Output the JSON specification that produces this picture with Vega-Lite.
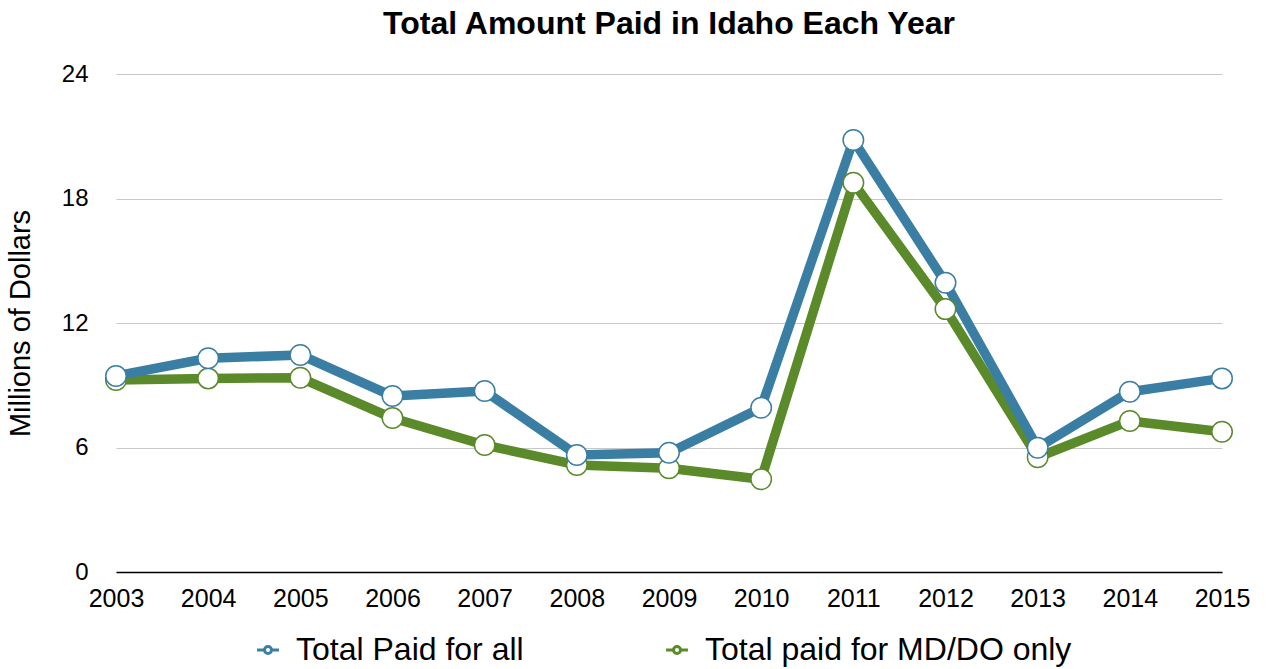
{
  "$schema": "https://vega.github.io/schema/vega-lite/v6.json",
  "width": 1106,
  "height": 498,
  "autosize": {"type": "none"},
  "padding": {"left": 116, "top": 74, "right": 44, "bottom": 97},
  "background": "white",
  "config": {
    "view": {"stroke": null},
    "font": "Liberation Sans"
  },
  "title": {
    "text": "Total Amount Paid in Idaho Each Year",
    "fontSize": 32,
    "fontWeight": "bold",
    "font": "Liberation Sans",
    "color": "black",
    "anchor": "middle",
    "frame": "group",
    "offset": 21
  },
  "data": {
    "values": [
      {"year": "2003", "series": "Total paid for MD/DO only", "value": 9.25},
      {"year": "2004", "series": "Total paid for MD/DO only", "value": 9.33},
      {"year": "2005", "series": "Total paid for MD/DO only", "value": 9.36},
      {"year": "2006", "series": "Total paid for MD/DO only", "value": 7.42},
      {"year": "2007", "series": "Total paid for MD/DO only", "value": 6.12},
      {"year": "2008", "series": "Total paid for MD/DO only", "value": 5.16},
      {"year": "2009", "series": "Total paid for MD/DO only", "value": 5.0},
      {"year": "2010", "series": "Total paid for MD/DO only", "value": 4.47},
      {"year": "2011", "series": "Total paid for MD/DO only", "value": 18.76},
      {"year": "2012", "series": "Total paid for MD/DO only", "value": 12.67},
      {"year": "2013", "series": "Total paid for MD/DO only", "value": 5.53},
      {"year": "2014", "series": "Total paid for MD/DO only", "value": 7.28},
      {"year": "2015", "series": "Total paid for MD/DO only", "value": 6.76},
      {"year": "2003", "series": "Total Paid for all", "value": 9.45},
      {"year": "2004", "series": "Total Paid for all", "value": 10.3},
      {"year": "2005", "series": "Total Paid for all", "value": 10.46},
      {"year": "2006", "series": "Total Paid for all", "value": 8.48},
      {"year": "2007", "series": "Total Paid for all", "value": 8.72},
      {"year": "2008", "series": "Total Paid for all", "value": 5.64},
      {"year": "2009", "series": "Total Paid for all", "value": 5.75},
      {"year": "2010", "series": "Total Paid for all", "value": 7.92},
      {"year": "2011", "series": "Total Paid for all", "value": 20.82},
      {"year": "2012", "series": "Total Paid for all", "value": 13.94},
      {"year": "2013", "series": "Total Paid for all", "value": 5.99},
      {"year": "2014", "series": "Total Paid for all", "value": 8.69},
      {"year": "2015", "series": "Total Paid for all", "value": 9.33}
    ]
  },
  "encoding": {
    "x": {
      "field": "year",
      "type": "ordinal",
      "sort": null,
      "scale": {"type": "point", "padding": 0},
      "axis": {
        "title": null,
        "labelAngle": 0,
        "labelFontSize": 25,
        "labelColor": "black",
        "labelPadding": 14,
        "ticks": false,
        "domainColor": "black",
        "domainWidth": 1.5,
        "grid": false
      }
    },
    "y": {
      "field": "value",
      "type": "quantitative",
      "scale": {"domain": [0, 24], "nice": false},
      "axis": {
        "title": "Millions of Dollars",
        "titleFontSize": 29,
        "titleFontWeight": "normal",
        "titleColor": "black",
        "titlePadding": 26,
        "values": [0, 6, 12, 18, 24],
        "labelFontSize": 24,
        "labelColor": "black",
        "labelPadding": 28,
        "ticks": false,
        "domain": false,
        "grid": true,
        "gridColor": "#c8c8c8",
        "gridWidth": 1
      }
    },
    "color": {
      "field": "series",
      "type": "nominal",
      "scale": {
        "domain": ["Total Paid for all", "Total paid for MD/DO only"],
        "range": ["#3a7fa3", "#5a8a29"]
      },
      "legend": {
        "title": null,
        "orient": "none",
        "legendX": 136,
        "legendY": 560,
        "direction": "horizontal",
        "columns": 2,
        "padding": 0,
        "labelFontSize": 32,
        "labelColor": "black",
        "labelLimit": 600,
        "symbolType": "M -1 0 L -0.32 0 M 0.32 0 L 1 0 M 0.32 0 A 0.32 0.32 0 1 1 -0.32 0 A 0.32 0.32 0 1 1 0.32 0 Z",
        "symbolSize": 480,
        "symbolFillColor": "white",
        "symbolStrokeWidth": 3,
        "labelOffset": 12,
        "columnPadding": 136
      }
    }
  },
  "layer": [
    {
      "mark": {"type": "line", "strokeWidth": 9.5, "strokeJoin": "round"}
    },
    {
      "mark": {"type": "point", "filled": false, "fill": "white", "fillOpacity": 1, "size": 420, "strokeWidth": 1.5, "opacity": 1}
    }
  ]
}
